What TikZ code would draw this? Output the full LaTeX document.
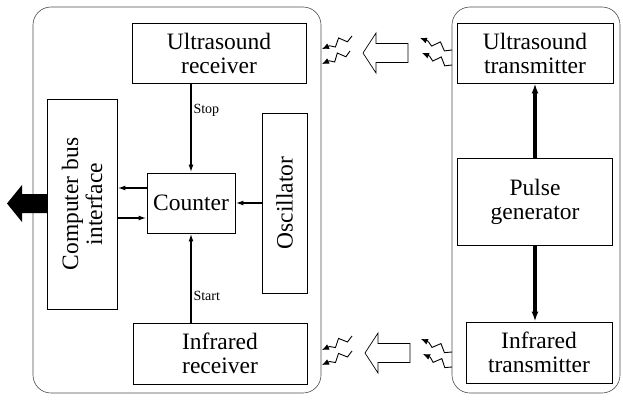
\documentclass[tikz,border=0pt]{standalone}
\usepackage{fontspec}
\setmainfont{Liberation Serif}
\usetikzlibrary{arrows.meta,calc}
\begin{document}
\begin{tikzpicture}[x=1pt,y=-1pt,
  outer/.style={draw=black!70,line width=0.6pt,rounded corners=18pt,inner sep=0pt},
  blk/.style={draw,line width=0.9pt,inner sep=0pt,align=center,
    font=\fontsize{23.5}{24}\selectfont},
  sig/.style={line width=2pt,-{Latex[length=8pt,width=5pt]}},
  fat/.style={line width=3.5pt,-{Latex[length=10pt,width=7pt]}},
  lbl/.style={font=\fontsize{14}{15}\selectfont,inner sep=1.5pt,anchor=west},
  zz/.style={line width=0.9pt,line join=miter,-{Latex[length=7pt,width=6pt]}},
  hollow/.pic={\draw[line width=0.7pt] (0,0) -- (13,-20) -- (13,-9.5) -- (45,-9.5) -- (45,9.5) -- (13,9.5) -- (13,20) -- cycle;}
]
\useasboundingbox (0,0) rectangle (623,401);
% outer enclosures
\node[outer,minimum width=288pt,minimum height=386pt] (L) at (177,200) {};
\node[outer,minimum width=168pt,minimum height=386pt] (R) at (536,200) {};
% left blocks
\node[blk,minimum width=174pt,minimum height=60pt] (UR) at (219,53) {Ultrasound\\receiver};
\node[blk,minimum width=210pt,minimum height=70pt,rotate=90] (CBI) at (82,204) {Computer bus\\interface};
\node[blk,minimum width=180pt,minimum height=45pt,rotate=90] (OSC) at (284.5,203) {Oscillator};
\node[blk,minimum width=88pt,minimum height=60pt] (CNT) at (191,203) {Counter};
\node[blk,minimum width=174pt,minimum height=61pt] (IR) at (220,353.5) {Infrared\\receiver};
% right blocks
\node[blk,minimum width=156pt,minimum height=60pt] (UT) at (535,53) {Ultrasound\\transmitter};
\node[blk,minimum width=155pt,minimum height=87pt] (PG) at (535,201.5) {Pulse\\generator};
\node[blk,minimum width=146pt,minimum height=61pt] (IT) at (539,352.5) {Infrared\\transmitter};
% connectors
\draw[sig] (CNT.north |- UR.south) -- (CNT.north) node[lbl,pos=0.3] {Stop};
\draw[sig] (CNT.south |- IR.north) -- (CNT.south) node[lbl,pos=0.3] {Start};
\draw[sig] (OSC.north) -- (CNT.east);
\draw[sig] ([yshift=15pt]CNT.west) -- ([yshift=15pt]CNT.west -| CBI.south);
\draw[sig] ([yshift=-15pt]CNT.west -| CBI.south) -- ([yshift=-15pt]CNT.west);
\draw[fat] (PG.north) -- (PG.north |- UT.south);
\draw[fat] (PG.south) -- (PG.south |- IT.north);
% output arrow
\fill (47,194) -- (22,194) -- (22,185) -- (7,203.5) -- (22,222) -- (22,213) -- (47,213) -- cycle;
% hollow arrows
\pic at (363,53) {hollow};
\pic at (365,353) {hollow};
% wireless zigzags
\coordinate (a1) at (352,36); \coordinate (b1) at (322,49);
\coordinate (a2) at (350,51); \coordinate (b2) at (322,64);
\coordinate (a3) at (452,50); \coordinate (b3) at (420,38);
\coordinate (a4) at (452,65); \coordinate (b4) at (422,53);
\coordinate (a5) at (352,336); \coordinate (b5) at (322,350);
\coordinate (a6) at (352,351); \coordinate (b6) at (322,365);
\coordinate (a7) at (452,352); \coordinate (b7) at (421,339);
\coordinate (a8) at (452,367); \coordinate (b8) at (423,354);
\foreach \i in {1,...,8} {
  \draw[zz] (a\i) -- ($(a\i)!0.2!(b\i)!3.5pt!90:(b\i)$)
    -- ($(a\i)!0.4!(b\i)!3.5pt!-90:(b\i)$)
    -- ($(a\i)!0.6!(b\i)!3.5pt!90:(b\i)$)
    -- ($(a\i)!0.75!(b\i)$) -- (b\i);}
\end{tikzpicture}
\end{document}
